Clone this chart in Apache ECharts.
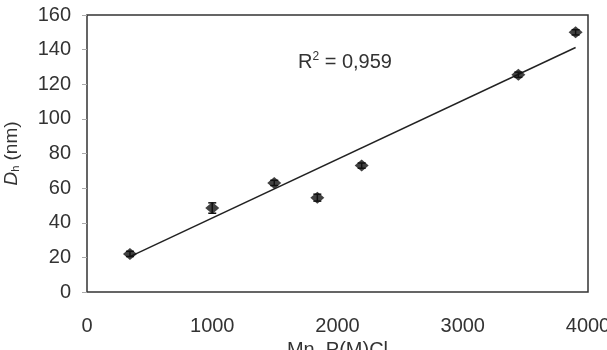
<!DOCTYPE html>
<html>
<head>
<meta charset="utf-8">
<script src="https://cdn.jsdelivr.net/npm/echarts@6/dist/echarts.min.js"></script>
<style>
  html, body { margin: 0; padding: 0; background: #fff; }
  #main { width: 607px; height: 350px; }
</style>
</head>
<body>
<div id="main"></div>
<script>
// molar mass vs hydrodynamic diameter
var mnValues = [343, 1000, 1495, 1839, 2193, 3444, 3901];
var dhValues = [22, 48.5, 63, 54.5, 73, 125.5, 150];
var dhError = [1.5, 3, 1.5, 2, 1.5, 1.5, 1.5];
var trendX = [343, 3901];
var trendY = [20.4, 141.2];
var xTicks = [0, 1000, 2000, 3000, 4000];
var yTicks = [0, 20, 40, 60, 80, 100, 120, 140, 160];

var points = mnValues.map(function (x, i) { return [x, dhValues[i]]; });
var errData = mnValues.map(function (x, i) { return [x, dhValues[i] - dhError[i], dhValues[i] + dhError[i]]; });
var trendData = trendX.map(function (x, i) { return [x, trendY[i]]; });

var axisFont = { fontFamily: 'Liberation Sans', fontSize: 20, color: '#333' };

var myChart = echarts.init(document.getElementById('main'));
myChart.setOption({
  backgroundColor: '#fff',
  animation: false,
  grid: {
    left: 87, right: 19, top: 15, bottom: 58,
    outerBoundsMode: 'none',
    containLabel: false,
    show: true, borderColor: '#333', borderWidth: 1.5
  },
  xAxis: {
    type: 'value',
    min: 0, max: 4000, interval: 1000,
    axisLine: { show: false },
    axisTick: { show: false },
    splitLine: { show: false },
    axisLabel: Object.assign({ margin: 24, formatter: function (v) { return xTicks.indexOf(v) >= 0 ? String(v) : ''; } }, axisFont),
    name: 'Mn, P(M)Cl',
    nameLocation: 'middle',
    nameGap: 48,
    nameTextStyle: { fontFamily: 'Liberation Sans', fontSize: 20, color: '#333' }
  },
  yAxis: {
    type: 'value',
    min: 0, max: 160, interval: 20,
    axisLine: { show: false },
    axisTick: { show: true, inside: false, length: 5, lineStyle: { color: '#aaa' } },
    splitLine: { show: false },
    axisLabel: Object.assign({ margin: 16, formatter: function (v) { return yTicks.indexOf(v) >= 0 ? String(v) : ''; } }, axisFont),
    name: '{i|D}{s|h} (nm)',
    nameLocation: 'middle',
    nameGap: 66,
    nameTextStyle: {
      fontFamily: 'Liberation Sans', fontSize: 19, color: '#333',
      rich: {
        i: { fontFamily: 'Liberation Sans', fontSize: 19, fontStyle: 'italic', color: '#333' },
        s: { fontFamily: 'Liberation Sans', fontSize: 11, color: '#333', padding: [8, 0, 0, 0] }
      }
    }
  },
  graphic: [{
    type: 'text',
    left: 298, top: 51,
    style: {
      text: 'R{sup|2} = 0,959',
      fontFamily: 'Liberation Sans', fontSize: 20, fill: '#333',
      rich: {
        sup: { fontFamily: 'Liberation Sans', fontSize: 12, fill: '#333', padding: [0, 0, 10, 0] }
      }
    }
  }],
  series: [
    {
      type: 'line',
      data: trendData,
      symbol: 'none',
      lineStyle: { color: '#222', width: 1.5 },
      z: 2
    },
    {
      type: 'custom',
      data: errData,
      z: 3,
      renderItem: function (params, api) {
        var top = api.coord([api.value(0), api.value(2)]);
        var bot = api.coord([api.value(0), api.value(1)]);
        var cap = 4;
        var st = { stroke: '#111', lineWidth: 1.5 };
        return {
          type: 'group',
          children: [
            { type: 'line', shape: { x1: top[0], y1: top[1], x2: bot[0], y2: bot[1] }, style: st },
            { type: 'line', shape: { x1: top[0] - cap, y1: top[1], x2: top[0] + cap, y2: top[1] }, style: st },
            { type: 'line', shape: { x1: bot[0] - cap, y1: bot[1], x2: bot[0] + cap, y2: bot[1] }, style: st }
          ]
        };
      }
    },
    {
      type: 'scatter',
      data: points,
      symbol: 'diamond',
      symbolSize: [14, 12],
      itemStyle: { color: '#111' },
      z: 4
    }
  ]
});
</script>
</body>
</html>
